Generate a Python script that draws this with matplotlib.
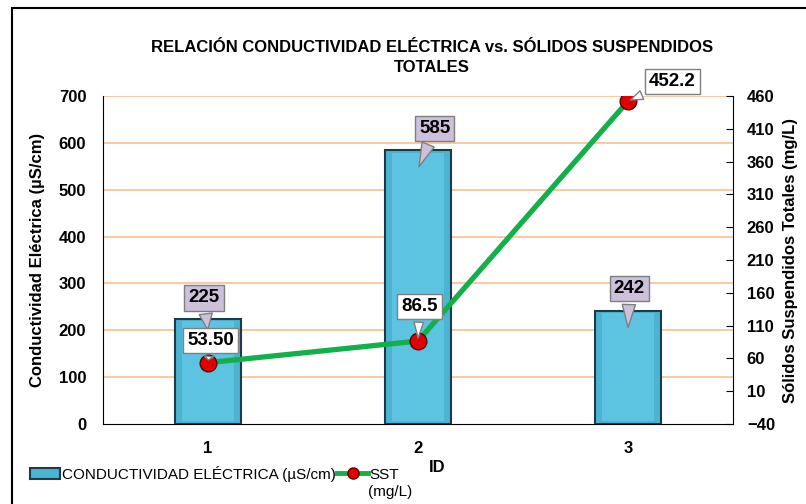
import matplotlib
matplotlib.use("Agg")
import matplotlib.pyplot as plt
from matplotlib.patches import Rectangle, Patch
from matplotlib.lines import Line2D

plt.rcParams['font.family'] = ['Liberation Sans', 'DejaVu Sans']

ids = ['1', '2', '3']
conductividad = [225, 585, 242]
sst = [53.50, 86.5, 452.2]
sst_labels = ['53.50', '86.5', '452.2']
left_ticks = [0, 100, 200, 300, 400, 500, 600, 700]
right_ticks = [-40, 10, 60, 110, 160, 210, 260, 310, 360, 410, 460]

fig = plt.figure(figsize=(8.06, 5.04), dpi=100)
ax = fig.add_axes([0.1278, 0.1587, 0.7816, 0.6508])
ax2 = ax.twinx()

x = list(range(len(ids)))

# bars
ax.bar(x, conductividad, width=0.31, color='#4BB4D2', edgecolor='#1E3A46',
       linewidth=1.5, zorder=3)
for xi, v in zip(x, conductividad):
    ax.bar(xi, v - 12, bottom=6, width=0.25, color='#5CC3E0', edgecolor='none', zorder=3)

ax.set_xlim(-0.5, 2.5)
ax.set_ylim(0, 700)
ax.set_yticks(left_ticks)
ax.set_xticks(x)
ax.set_xticklabels(ids)
for yv in left_ticks[1:]:
    ax.axhline(yv, color='#FAC090', linewidth=1.2, zorder=1)
ax.spines['top'].set_visible(False)
ax.spines['right'].set_visible(False)
ax.tick_params(axis='x', length=0, pad=12, labelsize=12)
ax.tick_params(axis='y', length=0, pad=12, labelsize=12)
for t in ax.get_xticklabels() + ax.get_yticklabels():
    t.set_fontweight('bold')
ax.set_ylabel('Conductividad Eléctrica (µS/cm)', fontsize=12, fontweight='bold', labelpad=10)
ax.set_xlabel('ID', fontsize=12, fontweight='bold')
ax.xaxis.set_label_coords(0.53, -0.11)

# line
ax2.plot(x, sst, color='#13B04A', linewidth=3.8, zorder=4)
ax2.plot(x, sst, linestyle='none', marker='o', markersize=12,
         markerfacecolor='#E00000', markeredgecolor='#600000', markeredgewidth=1, zorder=5)
ax2.set_ylim(-40, 460)
ax2.set_yticks(right_ticks)
ax2.spines['top'].set_visible(False)
ax2.spines['left'].set_visible(False)
ax2.spines['bottom'].set_visible(False)
ax2.tick_params(axis='y', direction='in', length=5, pad=10, labelsize=12)
for t in ax2.get_yticklabels():
    t.set_fontweight('bold')
ax2.set_ylabel('Sólidos Suspendidos Totales (mg/L)', fontsize=12, fontweight='bold', labelpad=6)
ax.set_zorder(1)
ax2.set_zorder(2)
ax.patch.set_visible(True)
ax2.patch.set_visible(False)

# callouts for bars
bar_tips = [195, 544, 200]
bar_offsets = [(-3, 25), (12, 29), (1, 30)]
for xi, v, tip, off in zip(x, conductividad, bar_tips, bar_offsets):
    ax.annotate(str(v), xy=(xi, tip), xytext=off, textcoords='offset points',
                ha='center', va='center', fontsize=13.5, fontweight='bold', zorder=6,
                bbox=dict(boxstyle='square,pad=0.22', fc='#CCC0DA', ec='#7F7F7F', lw=1),
                arrowprops=dict(arrowstyle='wedge,tail_width=0.7,shrink_factor=0.5',
                                fc='#CCC0DA', ec='#7F7F7F', lw=1))

# callouts for line
line_offsets = [(2, 16), (1, 25), (32, 14)]
for xi, v, lab, off in zip(x, sst, sst_labels, line_offsets):
    ax2.annotate(lab, xy=(xi, v), xytext=off, textcoords='offset points',
                 ha='center', va='center', fontsize=13.5, fontweight='bold', zorder=6,
                 bbox=dict(boxstyle='square,pad=0.22', fc='white', ec='#7F7F7F', lw=1),
                 arrowprops=dict(arrowstyle='wedge,tail_width=0.5,shrink_factor=0.5',
                                 fc='white', ec='#7F7F7F', lw=1))

fig.text(0.536, 0.906, 'RELACIÓN CONDUCTIVIDAD ELÉCTRICA vs. SÓLIDOS SUSPENDIDOS',
         ha='center', va='center', fontsize=12, fontweight='bold')
fig.text(0.536, 0.866, 'TOTALES', ha='center', va='center', fontsize=12, fontweight='bold')

handles = [Patch(facecolor='#4BB4D2', edgecolor='#1E3A46', linewidth=1.5),
           Line2D([], [], color='#13B04A', linewidth=3.5, marker='o', markersize=8,
                  markerfacecolor='#E00000', markeredgecolor='#600000')]
leg = fig.legend(handles, ['CONDUCTIVIDAD ELÉCTRICA (µS/cm)', 'SST'],
                 loc='upper left', bbox_to_anchor=(0.037, 0.076), ncol=2, frameon=False,
                 fontsize=11, handlelength=2.0, handletextpad=0.1, columnspacing=0.1,
                 borderpad=0, borderaxespad=0)
fig.text(0.457, 0.024, '(mg/L)', ha='left', va='center', fontsize=11)

fig.patches.append(Rectangle((12 / 806, -0.1), 1.0, 1 - 8 / 504 + 0.1, transform=fig.transFigure,
                             fill=False, edgecolor='black', linewidth=1.5))

fig.savefig('out.png', dpi=100)
